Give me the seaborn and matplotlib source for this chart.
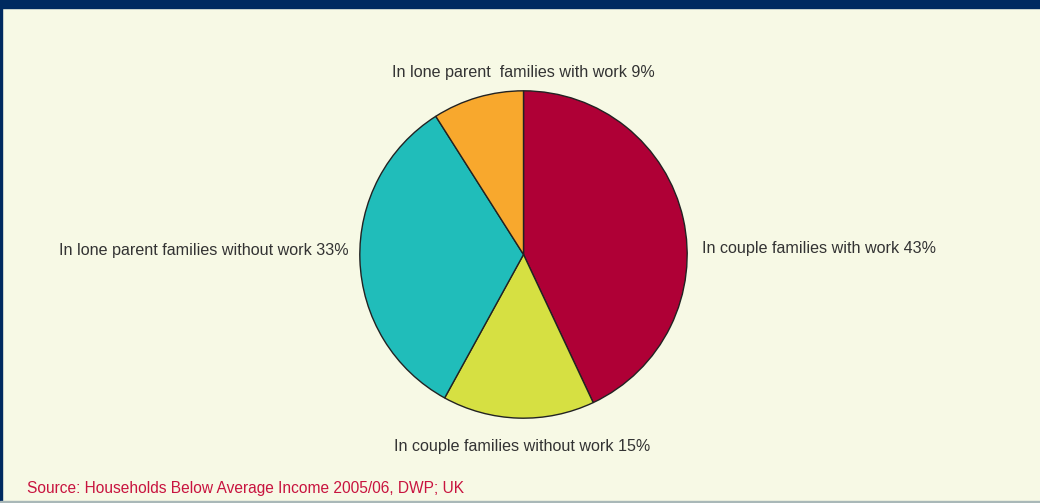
import matplotlib
matplotlib.use("Agg")
import matplotlib.pyplot as plt
import seaborn as sns
from matplotlib.patches import Rectangle

categories = ["In couple families with work", "In couple families without work",
              "In lone parent families without work", "In lone parent  families with work"]
values = [43, 15, 33, 9]
colors = ["#AF0036", "#D6E042", "#20BDBA", "#F8A82D"]

sns.set_theme(style="white")
plt.rcParams['font.family'] = ['Liberation Sans', 'DejaVu Sans']

W, H = 1040, 503
fig = plt.figure(figsize=(W / 100, H / 100), dpi=100)
fig.patch.set_facecolor("#F7F9E5")

# borders
fig.add_artist(Rectangle((0, 1 - 8 / H), 1, 8 / H, transform=fig.transFigure, color="#002A60", zorder=0))
fig.add_artist(Rectangle((0, 0), 2 / W, 1, transform=fig.transFigure, color="#002A60", zorder=0))
fig.add_artist(Rectangle((0, 0), 1, 2 / H, transform=fig.transFigure, color="#A9B8B8", zorder=0))

cx, cy, r = 523.5, 254.5, 164.5
ax = fig.add_axes([(cx - r) / W, (H - cy - r) / H, 2 * r / W, 2 * r / H])
ax.pie(values, colors=colors, startangle=90, counterclock=False,
       wedgeprops=dict(edgecolor="#222222", linewidth=1.0))
ax.set_xlim(-1.005, 1.005)
ax.set_ylim(-1.005, 1.005)
ax.set_aspect("equal")
ax.axis("off")

tc = "#333333"
fs = 11.6
labels = [f"{c} {v}%" for c, v in zip(categories, values)]
fig.text(702 / W, 1 - 249 / H, labels[0], ha="left", va="center", fontsize=fs, color=tc)
fig.text(522 / W, 1 - 447 / H, labels[1], ha="center", va="center", fontsize=fs, color=tc)
fig.text(349 / W, 1 - 250 / H, labels[2], ha="right", va="center", fontsize=fs, color=tc)
fig.text(523 / W, 1 - 73 / H, labels[3], ha="center", va="center", fontsize=fs, color=tc)

fig.text(27 / W, 1 - 489 / H, "Source: Households Below Average Income 2005/06, DWP; UK",
         ha="left", va="center", fontsize=11.2, color="#C8143F")

fig.savefig("out.png", dpi=100, facecolor=fig.get_facecolor())
